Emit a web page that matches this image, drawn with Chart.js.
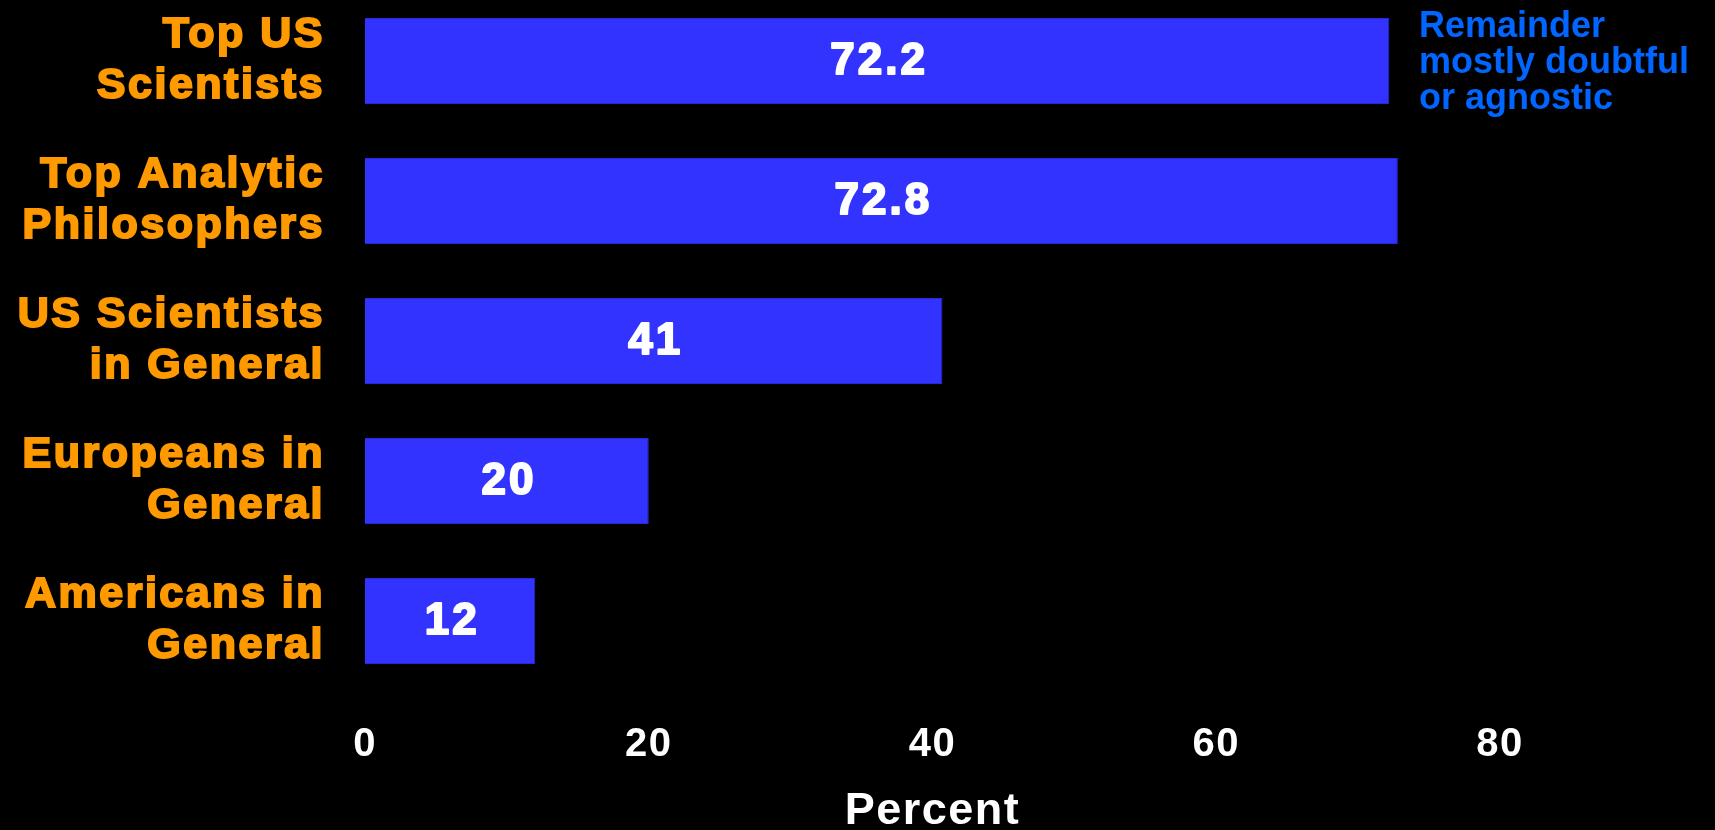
<!DOCTYPE html>
<html>
<head>
<meta charset="utf-8">
<script src="https://cdn.jsdelivr.net/npm/chart.js@4.4.0/dist/chart.umd.min.js"></script>
<style>
    html, body { margin: 0; padding: 0; background: #000; overflow: hidden; }
    #newCanva { position: absolute; left: 0; top: -9px; width: 1715px; height: 839px; }
</style>
</head>
<body>
<div id="newCanva"><canvas id="myChart" width="1715" height="839"></canvas></div>
<script>
var categorias = [
    ['Top US', 'Scientists'],
    ['Top Analytic', 'Philosophers'],
    ['US Scientists', 'in General'],
    ['Europeans in', 'General'],
    ['Americans in', 'General']
];
var valores = [72.2, 72.8, 40.7, 20, 12];
var textos = ['72.2', '72.8', '41', '20', '12'];
var ticksX = [0, 20, 40, 60, 80];
var nota = ['Remainder', 'mostly doubtful', 'or agnostic'];

var fuente = '"Liberation Sans", Arial, sans-serif';

// numeros dentro de las barras + nota azul arriba a la derecha
// (las etiquetas del eje y van con ticks.z:1, se dibujan despues de las barras con mas espaciado)
var etiquetas = {
    id: 'etiquetas',
    beforeDraw: function (chart) {
        chart.ctx.letterSpacing = '1.5px';
    },
    afterDatasetsDraw: function (chart) {
        var ctx = chart.ctx;
        var meta = chart.getDatasetMeta(0);
        ctx.save();
        ctx.letterSpacing = '3px';
        ctx.font = 'bold 44px ' + fuente;
        ctx.fillStyle = '#ffffff';
        ctx.strokeStyle = '#ffffff';
        ctx.lineWidth = 2;
        ctx.lineJoin = 'round';
        ctx.textAlign = 'center';
        ctx.textBaseline = 'middle';
        meta.data.forEach(function (bar, i) {
            var x = (bar.x + bar.base) / 2 + 2;
            ctx.strokeText(textos[i], x, bar.y + 1);
            ctx.fillText(textos[i], x, bar.y + 1);
        });
        ctx.restore();
        ctx.letterSpacing = '2.5px';
    },
    afterDraw: function (chart) {
        var ctx = chart.ctx;
        ctx.save();
        ctx.letterSpacing = '0px';
        ctx.font = 'bold 36px ' + fuente;
        ctx.fillStyle = '#0066FF';
        ctx.textAlign = 'left';
        ctx.textBaseline = 'alphabetic';
        nota.forEach(function (linea, i) {
            ctx.fillText(linea, 1419, 46 + i * 36);
        });
        ctx.restore();
    }
};

const ctx = document.getElementById('myChart');
new Chart(ctx, {
    type: 'bar',
    data: {
        labels: categorias,
        datasets: [{
            label: 'Percent',
            data: valores,
            backgroundColor: '#3333FF',
            borderColor: '#2828d8',
            borderWidth: 1,
            categoryPercentage: 1,
            barPercentage: 0.615
        }]
    },
    options: {
        indexAxis: 'y',
        responsive: false,
        animation: false,
        devicePixelRatio: 1,
        layout: {
            padding: { left: 0, right: 215, top: 0, bottom: 0 }
        },
        plugins: {
            legend: { display: false },
            tooltip: { enabled: false }
        },
        scales: {
            x: {
                min: 0,
                max: 80,
                grid: { display: false, drawTicks: false },
                border: { display: false },
                afterBuildTicks: function (scale) {
                    scale.ticks = ticksX.map(function (v) { return { value: v }; });
                },
                afterFit: function (scale) {
                    scale.height = 139;
                    scale.paddingLeft = 0;
                    scale.paddingRight = 0;
                },
                ticks: {
                    color: '#ffffff',
                    padding: 29,
                    maxRotation: 0,
                    font: { family: fuente, size: 40, weight: 'bold', lineHeight: 1.25 }
                },
                title: {
                    display: true,
                    text: 'Percent',
                    color: '#ffffff',
                    padding: 0,
                    font: { family: fuente, size: 45, weight: 'bold', lineHeight: 0.8 }
                }
            },
            y: {
                grid: { display: false, drawTicks: false },
                border: { display: false },
                afterFit: function (scale) {
                    scale.width = 365;
                    scale.paddingTop = 0;
                    scale.paddingBottom = 0;
                },
                ticks: {
                    z: 1,
                    color: '#FF9900',
                    textStrokeColor: '#FF9900',
                    textStrokeWidth: 2,
                    padding: 40,
                    font: { family: fuente, size: 43, weight: 'bold', lineHeight: 1.18 }
                }
            }
        }
    },
    plugins: [etiquetas]
});
</script>
</body>
</html>
